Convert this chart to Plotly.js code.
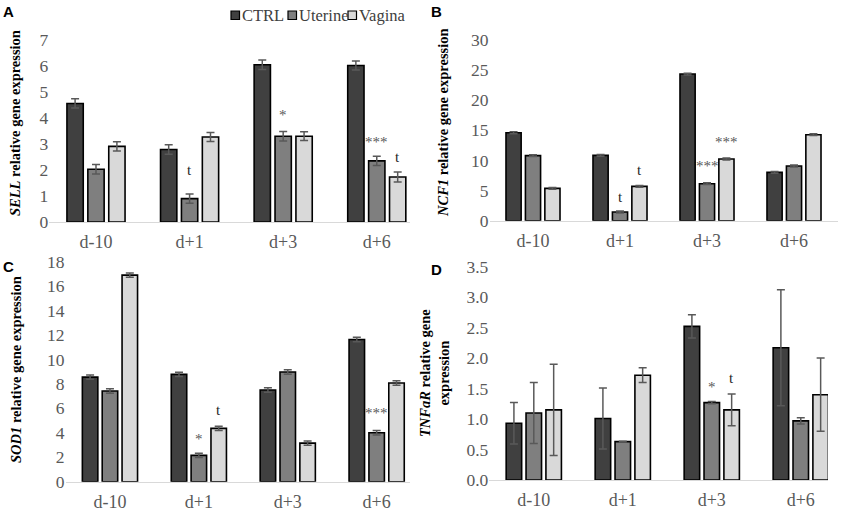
<!DOCTYPE html>
<html>
<head>
<meta charset="utf-8">
<script src="https://cdn.plot.ly/plotly-3.0.1.min.js"></script>
<style>html,body{margin:0;padding:0;background:#fff;}#chart{width:846px;height:510px;}</style>
</head>
<body>
<div id="chart"></div>
<script>
// ---------- DATA ----------
const categories = ['d-10', 'd+1', 'd+3', 'd+6'];
const seriesNames = ['CTRL', 'Uterine', 'Vagina'];

// Panel A: SELL
const sellCtrl    = [4.56, 2.79, 6.05, 6.02];
const sellUterine = [2.03, 0.90, 3.30, 2.35];
const sellVagina  = [2.91, 3.27, 3.30, 1.73];
const sellCtrlErr    = [0.18, 0.18, 0.18, 0.17];
const sellUterineErr = [0.18, 0.18, 0.18, 0.18];
const sellVaginaErr  = [0.18, 0.17, 0.17, 0.19];

// Panel B: NCF1
const ncf1Ctrl    = [14.6, 10.85, 24.35, 8.02];
const ncf1Uterine = [10.8, 1.44, 6.14, 9.08];
const ncf1Vagina  = [5.37, 5.70, 10.24, 14.28];
const ncf1CtrlErr    = [0.15, 0.15, 0.15, 0.15];
const ncf1UterineErr = [0.15, 0.15, 0.15, 0.15];
const ncf1VaginaErr  = [0.15, 0.15, 0.15, 0.15];

// Panel C: SOD1
const sod1Ctrl    = [8.56, 8.78, 7.50, 11.64];
const sod1Uterine = [7.42, 2.15, 8.97, 4.01];
const sod1Vagina  = [16.9, 4.36, 3.16, 8.07];
const sod1CtrlErr    = [0.18, 0.18, 0.18, 0.18];
const sod1UterineErr = [0.18, 0.18, 0.18, 0.18];
const sod1VaginaErr  = [0.18, 0.18, 0.18, 0.18];

// Panel D: TNFaR
const tnfCtrl    = [0.93, 1.01, 2.52, 2.17];
const tnfUterine = [1.10, 0.63, 1.27, 0.97];
const tnfVagina  = [1.15, 1.72, 1.15, 1.40];
const tnfCtrlErr    = [0.34, 0.50, 0.19, 0.95];
const tnfUterineErr = [0.50, 0.005, 0.02, 0.05];
const tnfVaginaErr  = [0.75, 0.12, 0.26, 0.60];

// Significance marks: [category index, series index, y, label]
const sigA = [[1, 1, 1.99, 't'], [2, 1, 4.1, '*'], [3, 1, 3.08, '***'], [3, 2, 2.5, 't']];
const sigB = [[1, 1, 4.0, 't'], [1, 2, 8.4, 't'], [2, 1, 9.0, '***'], [2, 2, 13.1, '***']];
const sigC = [[1, 1, 3.46, '*'], [1, 2, 5.86, 't'], [3, 1, 5.6, '***']];
const sigD = [[2, 1, 1.53, '*'], [2, 2, 1.67, 't']];

// Axis titles (gene names italic)
const titleA = '<b><i>SELL</i> relative gene expression</b>';
const titleB = '<b><i>NCF1</i> relative gene expression</b>';
const titleC = '<b><i>SOD1</i> relative gene expression</b>';
const titleD = '<b><i>TNFaR</i> relative gene<br>expression</b>';
const panelLetters = ['A', 'B', 'C', 'D'];

// ---------- STYLE ----------
const W = 846, H = 510;
const colors = ['#404040', '#7f7f7f', '#d9d9d9'];
const serif = 'Liberation Serif';
const sans = 'Liberation Sans';
const bargap = 0.33, bargroupgap = 0.22;
const slot = (1 - bargap) / 3;
const px = v => v / W;
const py = v => 1 - v / H;

const panels = [
  {ax: '', vals: [sellCtrl, sellUterine, sellVagina], errs: [sellCtrlErr, sellUterineErr, sellVaginaErr], sig: sigA},
  {ax: '2', vals: [ncf1Ctrl, ncf1Uterine, ncf1Vagina], errs: [ncf1CtrlErr, ncf1UterineErr, ncf1VaginaErr], sig: sigB},
  {ax: '3', vals: [sod1Ctrl, sod1Uterine, sod1Vagina], errs: [sod1CtrlErr, sod1UterineErr, sod1VaginaErr], sig: sigC},
  {ax: '4', vals: [tnfCtrl, tnfUterine, tnfVagina], errs: [tnfCtrlErr, tnfUterineErr, tnfVaginaErr], sig: sigD}
];

const traces = [];
const annotations = [];
panels.forEach((p, pi) => {
  for (let s = 0; s < 3; s++) {
    traces.push({
      type: 'bar', x: categories, y: p.vals[s], name: seriesNames[s],
      xaxis: 'x' + p.ax, yaxis: 'y' + p.ax, showlegend: false,
      marker: {color: colors[s], line: {color: '#000', width: 1.6}},
      error_y: {type: 'data', array: p.errs[s], visible: true, color: '#595959', thickness: 1.5, width: 4}
    });
  }
  p.sig.forEach(m => {
    annotations.push({
      xref: 'x' + p.ax, yref: 'y' + p.ax, x: m[0] + (m[1] - 1) * slot, y: m[2],
      text: m[3], showarrow: false, yanchor: 'middle',
      font: {family: serif, size: 15, color: m[3] === 't' ? '#262626' : '#595959'}
    });
  });
});

const yTitles = [[titleA, 15, 123], [titleB, 443, 123], [titleC, 16, 370], [titleD, 434, 373]];
yTitles.forEach(t => annotations.push({
  xref: 'paper', yref: 'paper', x: px(t[1]), y: py(t[2]), text: t[0], textangle: -90,
  showarrow: false, xanchor: 'center', yanchor: 'middle',
  font: {family: serif, size: 14.5, color: '#000'}
}));
const letterPos = [[8, 11], [436, 11], [8, 266], [436, 269]];
panelLetters.forEach((l, i) => annotations.push({
  xref: 'paper', yref: 'paper', x: px(letterPos[i][0]), y: py(letterPos[i][1]),
  text: '<b>' + l + '</b>', showarrow: false, xanchor: 'center', yanchor: 'middle',
  font: {family: sans, size: 15, color: '#000'}
}));
const legendX = [231, 288, 348];
const shapes = [];
legendX.forEach((lx, i) => {
  shapes.push({type: 'rect', xref: 'paper', yref: 'paper', x0: px(lx), x1: px(lx + 8.5), y0: py(19.5), y1: py(11),
    fillcolor: colors[i], line: {color: '#000', width: 1.2}});
  annotations.push({xref: 'paper', yref: 'paper', x: px(lx + 9), y: py(15.5), text: seriesNames[i],
    showarrow: false, xanchor: 'left', yanchor: 'middle', font: {family: serif, size: 16.5, color: '#404040'}});
});

function xax(domain, range, anchor) {
  return {domain: domain, range: range, type: 'category', anchor: anchor, showline: true, linecolor: '#d9d9d9', linewidth: 1.2,
    showgrid: false, zeroline: false, ticks: '', ticklabelstandoff: 3,
    tickfont: {family: serif, size: 18, color: '#595959'}};
}
function yax(domain, range, dtick, fmt, anchor) {
  return {domain: domain, range: range, dtick: dtick, tickformat: fmt, anchor: anchor, showline: false, showgrid: false,
    zeroline: false, ticks: '', tickfont: {family: serif, size: 17.5, color: '#595959'}};
}

const layout = {
  width: W, height: H, margin: {l: 0, r: 0, t: 0, b: 0},
  paper_bgcolor: '#fff', plot_bgcolor: '#fff', showlegend: false,
  barmode: 'group', bargap: bargap, bargroupgap: bargroupgap,
  xaxis:  xax([px(49.2), px(410)], [-0.5, 3.355], 'y'),
  yaxis:  yax([py(222), py(40)], [0, 7], 1, '', 'x'),
  xaxis2: xax([px(489.5), px(837.5)], [-0.5, 3.5], 'y2'),
  yaxis2: yax([py(220.7), py(40)], [0, 30], 5, '', 'x2'),
  xaxis3: xax([px(65.5), px(410)], [-0.5, 3.375], 'y3'),
  yaxis3: yax([py(481.7), py(261.7)], [0, 18], 2, '', 'x3'),
  xaxis4: xax([px(489.3), px(828)], [-0.5, 3.306], 'y4'),
  yaxis4: yax([py(480), py(266.7)], [0, 3.5], 0.5, '.1f', 'x4'),
  annotations: annotations, shapes: shapes
};

Plotly.newPlot('chart', traces, layout, {staticPlot: true, displayModeBar: false});
</script>
</body>
</html>
